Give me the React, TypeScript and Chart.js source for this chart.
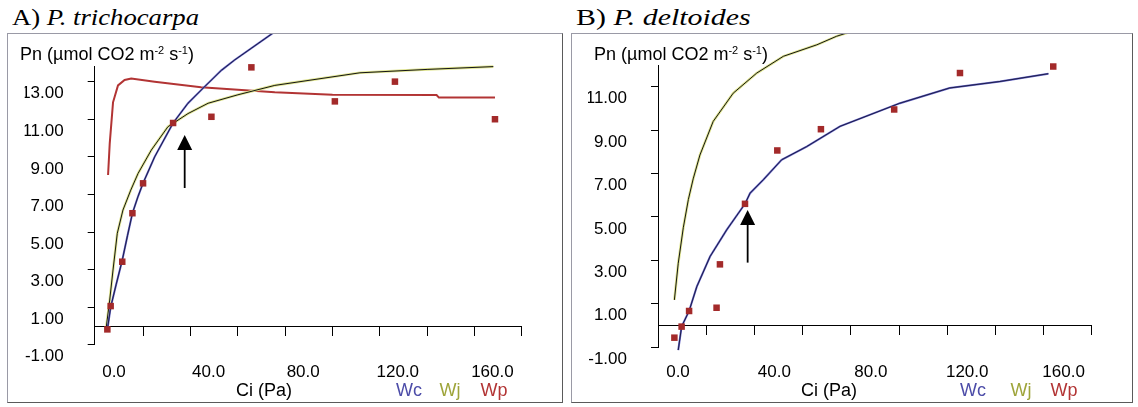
import React, { useEffect, useRef } from 'react';
import { Chart, registerables } from 'chart.js';

Chart.register(...registerables);

// ---------- Panel A: P. trichocarpa ----------
const obsCiA = [4.8, 6.2, 11.1, 15.4, 19.9, 32.6, 48.8, 65.7, 101, 126.4, 168.7];
const obsPnA = [-0.18, 1.06, 3.42, 6.0, 7.59, 10.8, 11.13, 13.76, 11.95, 13.0, 11.0];
const wcCiA = [4.8, 6.2, 8.5, 11.1, 13.3, 15.4, 17.8, 19.9, 24.8, 32.6, 38.9, 45.2, 53, 58.6, 75, 85];
const wcPnA = [-0.2, 1.0, 2.2, 3.5, 4.8, 6.0, 6.9, 7.6, 9.0, 10.8, 11.85, 12.64, 13.6, 14.15, 15.6, 16.3];
const wjCiA = [4.4, 5.8, 7.2, 9, 11.4, 14.7, 17.8, 23.4, 30.4, 38.9, 47.4, 60, 75.6, 111.6, 140, 168];
const wjPnA = [0, 1.38, 2.98, 4.93, 6.17, 7.23, 8.12, 9.36, 10.6, 11.3, 11.85, 12.3, 12.8, 13.47, 13.65, 13.8];
const wpCiA = [5.1, 5.8, 7.2, 9.3, 12.1, 14.9, 24.8, 44.4, 75.6, 100, 144, 145, 168.7];
const wpPnA = [8.03, 9.7, 11.9, 12.8, 13.09, 13.17, 13.0, 12.7, 12.43, 12.3, 12.29, 12.15, 12.15];
const arrowA = { ci: 37.5, tip: 10.16, tail: 7.34 };
const yTicksA = [-1, 1, 3, 5, 7, 9, 11, 13];

// ---------- Panel B: P. deltoides ----------
const obsCiB = [6.8, 9.8, 12.9, 24.3, 25.7, 36.1, 49.5, 67.6, 98, 125.3, 164];
const obsPnB = [-0.57, -0.06, 0.66, 0.81, 2.81, 5.6, 8.06, 9.04, 9.95, 11.63, 11.93];
const wcCiB = [8.4, 9.8, 12.9, 16.1, 21.6, 28.5, 36.1, 38.2, 43.7, 51.3, 61.7, 75.5, 100.4, 121, 141.9, 162];
const wcPnB = [-1.14, -0.06, 0.66, 1.78, 3.17, 4.4, 5.6, 6.09, 6.71, 7.63, 8.24, 9.17, 10.24, 10.94, 11.24, 11.6];
const wjCiB = [6.8, 8.4, 10.5, 12.6, 14.6, 17.4, 22.9, 31.2, 41, 52, 65.9, 74, 90];
const wjPnB = [1.17, 2.86, 4.5, 5.8, 6.75, 7.85, 9.4, 10.7, 11.63, 12.4, 12.93, 13.32, 13.9];
const arrowB = { ci: 37.2, tip: 5.32, tail: 2.89 };
const yTicksB = [-1, 1, 3, 5, 7, 9, 11];

// ---------- shared axis ----------
const xTicks = [0, 20, 40, 60, 80, 100, 120, 140, 160, 180];
const xLabelled = [0, 40, 80, 120, 160];

const COL_WC = '#4c4ca8';
const COL_WJ_HALO = '#dfe48e';
const COL_WJ_TEXT = '#9ea43a';
const COL_WP = '#b23434';
const COL_PT = '#a32a2a';

const zip = (xs: number[], ys: number[]) => xs.map((x, i) => ({ x, y: ys[i] }));

const arrowPlugin = {
  id: 'arrowMark',
  afterDatasetsDraw(chart: any, _args: any, opts: any) {
    if (!opts || opts.ci === undefined) return;
    const { ctx } = chart;
    const xs = chart.scales.x;
    const ys = chart.scales.y;
    const px = xs.getPixelForValue(opts.ci);
    const yTip = ys.getPixelForValue(opts.tip);
    const yTail = ys.getPixelForValue(opts.tail);
    ctx.save();
    ctx.strokeStyle = '#000';
    ctx.fillStyle = '#000';
    ctx.lineWidth = 1.8;
    ctx.beginPath();
    ctx.moveTo(px, yTail);
    ctx.lineTo(px, yTip + 12);
    ctx.stroke();
    ctx.beginPath();
    ctx.moveTo(px, yTip);
    ctx.lineTo(px - 7.5, yTip + 15);
    ctx.lineTo(px + 7.5, yTip + 15);
    ctx.closePath();
    ctx.fill();
    ctx.restore();
  },
};

type Panel = {
  obs: { x: number; y: number }[];
  wc: { x: number; y: number }[];
  wj: { x: number; y: number }[];
  wp: { x: number; y: number }[] | null;
  arrow: { ci: number; tip: number; tail: number };
  yTicks: number[];
  xMin: number;
  yMin: number;
  yMax: number;
  pad: { left: number; right: number; top: number; bottom: number };
  xLabelOffset: number;
  xLabelPad: number;
};

function buildChart(canvas: HTMLCanvasElement, p: Panel) {
  const lineBase = { showLine: true, pointRadius: 0, clip: false as any, tension: 0 };
  const datasets: any[] = [
    {
      data: p.obs,
      showLine: false,
      pointStyle: 'rect',
      pointRadius: 4.6,
      backgroundColor: COL_PT,
      borderColor: COL_PT,
      borderWidth: 0,
      clip: false,
    },
    { ...lineBase, data: p.wc, borderColor: '#14143a', borderWidth: 0.9 },
    { ...lineBase, data: p.wc, borderColor: '#6464c4', borderWidth: 2 },
    { ...lineBase, data: p.wj, borderColor: '#151515', borderWidth: 1 },
    { ...lineBase, data: p.wj, borderColor: COL_WJ_HALO, borderWidth: 2.6 },
  ];
  if (p.wp) {
    datasets.push({ ...lineBase, data: p.wp, borderColor: COL_WP, borderWidth: 2 });
  }
  return new Chart(canvas, {
    type: 'scatter',
    data: { datasets },
    options: {
      animation: false,
      responsive: false,
      events: [],
      layout: { padding: p.pad },
      plugins: {
        legend: { display: false },
        tooltip: { enabled: false },
        arrowMark: p.arrow,
      } as any,
      scales: {
        x: {
          type: 'linear',
          min: p.xMin,
          max: 180,
          position: { y: 0 } as any,
          afterBuildTicks: (s: any) => {
            s.ticks = xTicks.map((v) => ({ value: v }));
          },
          afterFit: (s: any) => {
            s.paddingLeft = 0;
            s.paddingRight = 0;
          },
          grid: {
            drawOnChartArea: false,
            drawTicks: true,
            tickLength: 9,
            lineWidth: 1,
            color: (ctx: any) => (ctx.tick && ctx.tick.value === 0 ? 'rgba(0,0,0,0)' : '#000'),
          },
          border: { display: true, color: '#000', width: 1 },
          ticks: {
            autoSkip: false,
            maxRotation: 0,
            color: '#000',
            font: { size: 17 },
            padding: p.xLabelPad,
            labelOffset: p.xLabelOffset,
            callback: (v: any) => (xLabelled.includes(Number(v)) ? Number(v).toFixed(1) : ''),
          },
        },
        y: {
          type: 'linear',
          min: p.yMin,
          max: p.yMax,
          position: 'left',
          afterBuildTicks: (s: any) => {
            s.ticks = p.yTicks.map((v) => ({ value: v }));
          },
          afterFit: (s: any) => {
            s.width = 70;
            s.paddingTop = 0;
            s.paddingBottom = 0;
          },
          grid: { drawOnChartArea: false, drawTicks: true, tickLength: 7, lineWidth: 1, color: '#000' },
          border: { display: true, color: '#000', width: 1 },
          ticks: {
            autoSkip: false,
            color: '#000',
            font: { size: 17 },
            padding: 24,
            labelOffset: 12,
            callback: (v: any) => Number(v).toFixed(2),
          },
        },
      },
    },
    plugins: [arrowPlugin],
  } as any);
}

const panelA: Panel = {
  obs: zip(obsCiA, obsPnA),
  wc: zip(wcCiA, wcPnA),
  wj: zip(wjCiA, wjPnA),
  wp: zip(wpCiA, wpPnA),
  arrow: arrowA,
  yTicks: yTicksA,
  xMin: -0.55,
  yMin: -1,
  yMax: 13.8,
  pad: { left: 16.7, right: 40.3, top: 32.6, bottom: 57.2 },
  xLabelOffset: 18,
  xLabelPad: 27,
};

const panelB: Panel = {
  obs: zip(obsCiB, obsPnB),
  wc: zip(wcCiB, wcPnB),
  wj: zip(wjCiB, wjPnB),
  wp: null,
  arrow: arrowB,
  yTicks: yTicksB,
  xMin: 0,
  yMin: -1,
  yMax: 12,
  pad: { left: 16, right: 40.2, top: 31, bottom: 55 },
  xLabelOffset: 20,
  xLabelPad: 28,
};

function ChartCanvas({ panel, width, height }: { panel: Panel; width: number; height: number }) {
  const ref = useRef<HTMLCanvasElement | null>(null);
  useEffect(() => {
    if (!ref.current) return;
    const c = buildChart(ref.current, panel);
    return () => c.destroy();
  }, [panel]);
  return <canvas ref={ref} width={width} height={height} style={{ display: 'block', width, height }} />;
}

const sans = '"Liberation Sans", Arial, sans-serif';
const serif = '"Liberation Serif", "Times New Roman", serif';

function PanelView({
  left,
  width,
  panel,
  title,
  species,
  titleScale,
  pnLeft,
  ciCenter,
  legend,
}: {
  left: number;
  width: number;
  panel: Panel;
  title: string;
  species: string;
  titleScale: number;
  pnLeft: number;
  ciCenter: number;
  legend: [number, number, number];
}) {
  const top = 33;
  const height = 370;
  return (
    <>
      <div
        style={{
          position: 'absolute',
          left: left + 5,
          top: 6,
          fontFamily: serif,
          fontSize: 23,
          lineHeight: '23px',
          color: '#000',
          whiteSpace: 'nowrap',
          transform: `scaleX(${titleScale})`,
          transformOrigin: 'left top',
        }}
      >
        {title} <i>{species}</i>
      </div>
      <div
        style={{
          position: 'absolute',
          left,
          top,
          width: width - 2,
          height: height - 2,
          borderTop: '1px solid #9a9aa6',
          borderLeft: '1px solid #9a9aa6',
          borderRight: '1px solid #5a5a5a',
          borderBottom: '1px solid #5a5a5a',
          background: '#fff',
        }}
      />
      <div style={{ position: 'absolute', left: left + 1, top: top + 1 }}>
        <ChartCanvas panel={panel} width={width - 2} height={height - 2} />
      </div>
      <div
        style={{
          position: 'absolute',
          left: pnLeft,
          top: 40,
          fontFamily: sans,
          fontSize: 18,
          lineHeight: '20px',
          color: '#000',
          whiteSpace: 'nowrap',
        }}
      >
        Pn (µmol CO2 m<sup style={{ fontSize: 11, verticalAlign: 6 }}>-2</sup> s<sup style={{ fontSize: 11, verticalAlign: 6 }}>-1</sup>)
      </div>
      <div
        style={{
          position: 'absolute',
          left: ciCenter - 40,
          width: 80,
          textAlign: 'center',
          top: 380,
          fontFamily: sans,
          fontSize: 18,
          lineHeight: '20px',
          color: '#000',
        }}
      >
        Ci (Pa)
      </div>
      {(['Wc', 'Wj', 'Wp'] as const).map((t, i) => (
        <div
          key={t}
          style={{
            position: 'absolute',
            left: legend[i] - 20,
            width: 40,
            textAlign: 'center',
            top: 380,
            fontFamily: sans,
            fontSize: 18,
            lineHeight: '20px',
            color: [COL_WC, COL_WJ_TEXT, COL_WP][i],
          }}
        >
          {t}
        </div>
      ))}
    </>
  );
}

export default function App() {
  return (
    <div
      style={{
        position: 'absolute',
        left: 0,
        top: 0,
        width: 1138,
        height: 407,
        background: '#fff',
        overflow: 'hidden',
      }}
    >
      <PanelView
        left={7}
        width={556}
        panel={panelA}
        title="A)"
        species="P. trichocarpa"
        titleScale={1.16}
        pnLeft={20}
        ciCenter={264}
        legend={[409, 450, 494]}
      />
      <PanelView
        left={571}
        width={562}
        panel={panelB}
        title="B)"
        species="P. deltoides"
        titleScale={1.3}
        pnLeft={594}
        ciCenter={829}
        legend={[973, 1021, 1064]}
      />
    </div>
  );
}
